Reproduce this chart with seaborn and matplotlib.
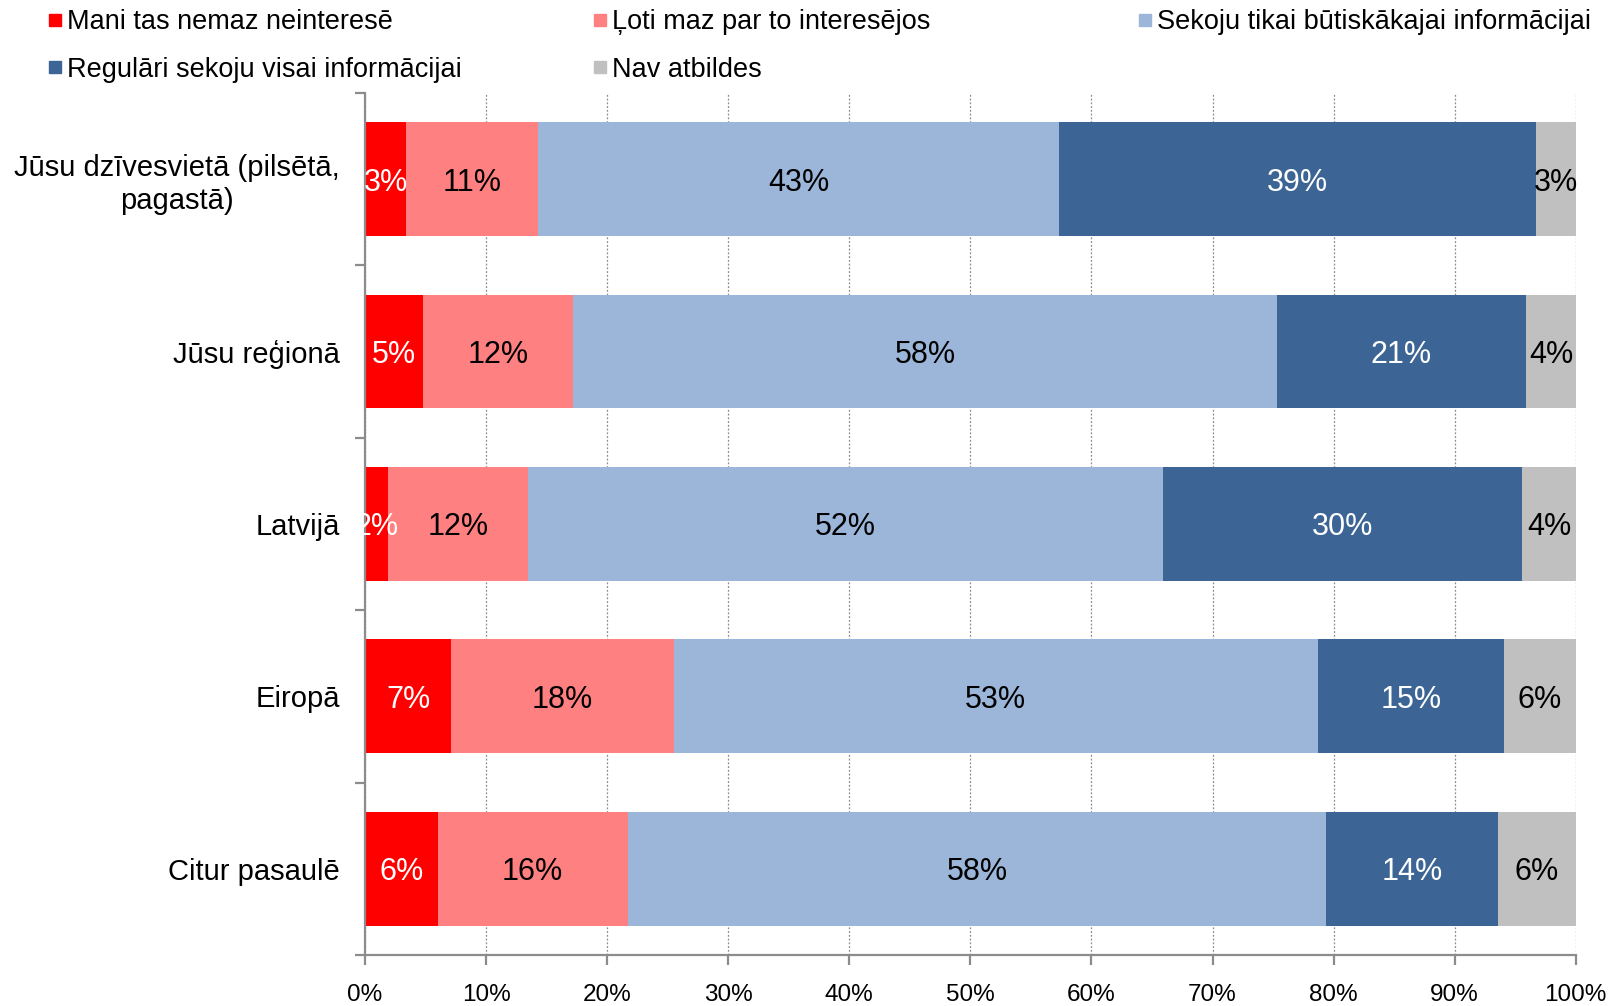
import numpy as np
import pandas as pd
import seaborn as sns
import matplotlib.pyplot as plt
from matplotlib.lines import Line2D

#------------------------------------------------------------------------------#
# data (percent of respondents)
#------------------------------------------------------------------------------#
regions = ['Jūsu dzīvesvietā (pilsētā,\npagastā)', 'Jūsu reģionā', 'Latvijā',
           'Eiropā', 'Citur pasaulē']

series = ['Mani tas nemaz neinteresē', 'Ļoti maz par to interesējos',
          'Sekoju tikai būtiskākajai informācijai',
          'Regulāri sekoju visai informācijai', 'Nav atbildes']

not_at_all = [3.4, 4.8, 1.9, 7.1, 6.0]
very_little = [10.9, 12.4, 11.6, 18.4, 15.7]
essentials = [43.0, 58.1, 52.4, 53.2, 57.7]
regularly = [39.4, 20.6, 29.7, 15.4, 14.2]
no_answer = [3.3, 4.1, 4.4, 5.9, 6.4]

colors = ['#FF0000', '#FF8080', '#9BB6D9', '#3C6595', '#C0C0C0']
text_colors = ['white', 'black', 'black', 'white', 'black']

#------------------------------------------------------------------------------#
def main():

    DF = pd.DataFrame({'region': regions})
    for name, vals in zip(series, [not_at_all, very_little, essentials,
                                    regularly, no_answer]):
        DF[name] = vals

    cum = DF[series].cumsum(axis=1)

    sns.set_style('white')
    plt.rcParams['font.family'] = ['Liberation Sans', 'DejaVu Sans']
    plt.rcParams['text.color'] = 'black'
    plt.rcParams['xtick.labelcolor'] = 'black'
    plt.rcParams['ytick.labelcolor'] = 'black'

    fig = plt.figure(figsize=(16.13, 10.06), dpi=100)
    ax = fig.add_axes([0.2263, 0.0507, 0.7506, 0.8569])

    # stacked bars: draw cumulative totals from the right end back to the left
    for i in range(len(series) - 1, -1, -1):
        sns.barplot(x=cum[series[i]], y=DF['region'], orient='h',
                    color=colors[i], width=0.66, linewidth=0, saturation=1,
                    ax=ax, zorder=2)

    # value labels in the middle of each segment
    for i, name in enumerate(series):
        left = cum[name] - DF[name]
        for j in range(len(DF)):
            ax.text(left[j] + DF[name][j] / 2.0, j,
                    '%d%%' % round(DF[name][j]),
                    ha='center', va='center_baseline', fontsize=22,
                    color=text_colors[i], zorder=3)

    ax.set_xlim(0, 100)
    ax.set_ylim(4.5, -0.5)
    ax.set_xticks(np.arange(0, 101, 10))
    ax.set_xticklabels(['%d%%' % v for v in range(0, 101, 10)])
    ax.set_xlabel('')
    ax.set_ylabel('')

    ax.xaxis.grid(True, color='#8c8c8c', linestyle=(0, (1.5, 1.5)),
                  linewidth=0.9, zorder=0)
    ax.set_axisbelow(True)

    for side in ['top', 'right']:
        ax.spines[side].set_visible(False)
    for side in ['left', 'bottom']:
        ax.spines[side].set_color('#8c8c8c')
        ax.spines[side].set_linewidth(1.6)

    ax.tick_params(axis='x', which='major', direction='out', length=7,
                   width=1.6, color='#8c8c8c', labelsize=17.5, pad=14,
                   bottom=True, labelcolor='black')
    ax.tick_params(axis='y', which='major', length=0, labelsize=21, pad=18,
                   labelcolor='black')
    ax.set_yticks(np.arange(-0.5, 4.6, 1.0), minor=True)
    ax.tick_params(axis='y', which='minor', direction='out', length=7,
                   width=1.6, color='#8c8c8c', left=True)
    for lab in ax.get_yticklabels():
        lab.set_multialignment('center')
        lab.set_verticalalignment('center_baseline')

    # legend split into three columns placed like the original
    handles = [Line2D([], [], marker='s', linestyle='', markersize=8,
                      markerfacecolor=c, markeredgecolor=c) for c in colors]
    cols = [([0, 3], 47), ([1, 4], 592), ([2], 1137)]
    for idx, xpix in cols:
        fig.legend([handles[k] for k in idx], [series[k] for k in idx],
                   loc='upper left',
                   bbox_to_anchor=(xpix / 1613.0, 1 - 9 / 1006.0),
                   frameon=False, fontsize=19.5, borderpad=0,
                   borderaxespad=0, handlelength=0.6,
                   handletextpad=0.15, labelspacing=0.8,
                   labelcolor='black')

    fig.savefig('out.png', dpi=100)

if __name__ == '__main__':
    main()
